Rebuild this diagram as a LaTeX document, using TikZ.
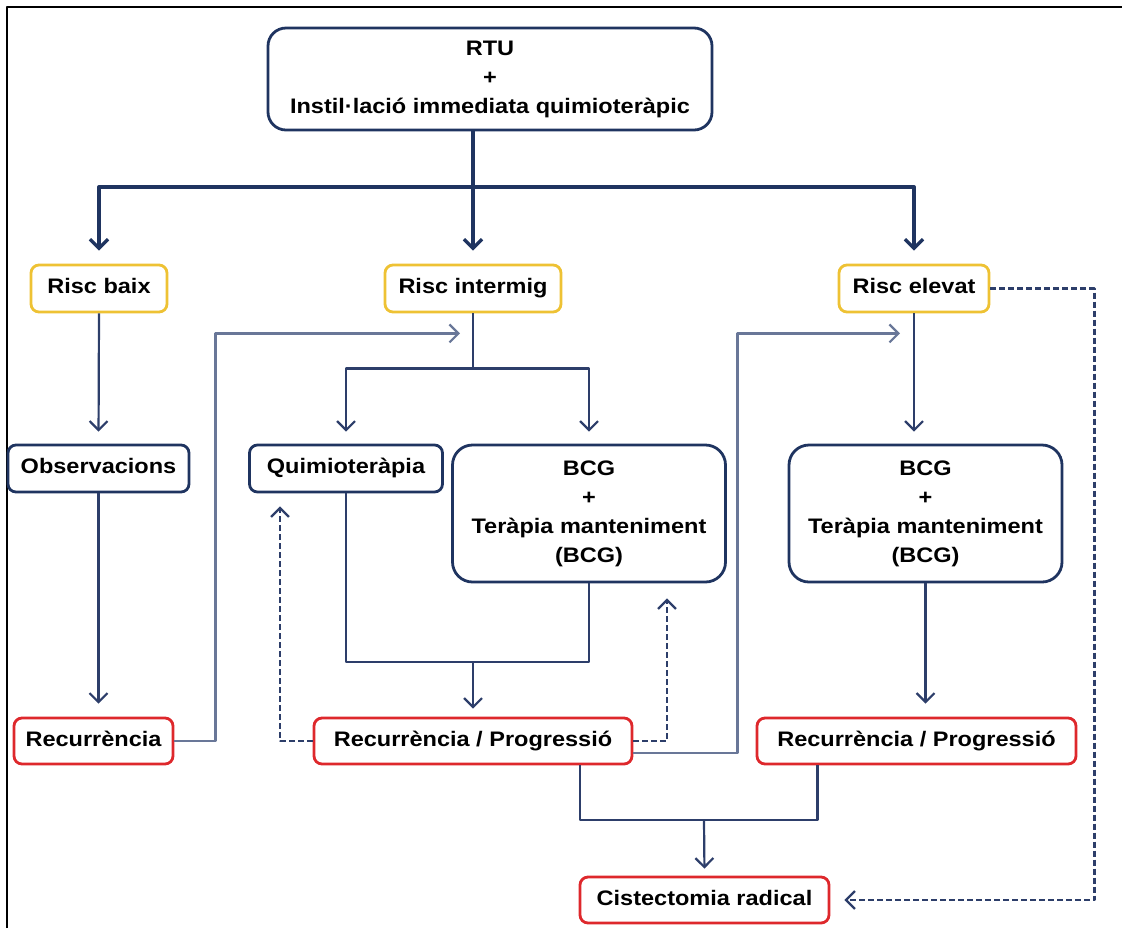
\documentclass[tikz,border=0pt]{standalone}
\usepackage{fontspec}
\setmainfont{Liberation Sans}[FakeStretch=1.12]
\usetikzlibrary{arrows.meta}
\definecolor{navy}{RGB}{31,52,96}
\definecolor{thinblue}{RGB}{45,62,106}
\definecolor{greyblue}{RGB}{105,119,152}
\definecolor{riskyellow}{RGB}{238,194,52}
\definecolor{recred}{RGB}{222,40,44}
\begin{document}
\begin{tikzpicture}[x=0.5pt,y=-0.5pt,font=\fontsize{10.5}{14.5}\selectfont\bfseries,
	line join=round,
	box/.style={draw=navy,line width=1.4pt,rounded corners=4pt,align=center,inner sep=0pt},
	oneline/.style={text height=7.6pt,text depth=2.2pt},
	riskbox/.style={box,oneline,draw=riskyellow},
	recbox/.style={box,oneline,draw=recred},
	>={Straight Barb[length=4.5pt,width=9pt]},
	main/.style={draw=navy,line width=1.7pt},
	flow/.style={draw=thinblue,line width=1.1pt},
	back/.style={draw=greyblue,line width=1.1pt},
	dashline/.style={draw=thinblue,line width=1.1pt,dash pattern=on 3pt off 1.5pt}]
	\useasboundingbox (0,0) rectangle (1122,928);
	\draw[line width=0.7pt] (7,928) -- (7,7) -- (1122,7);
	% nodes
	\node[box,rounded corners=9pt,minimum width=222pt,minimum height=51pt] (top) at (490,79)
		{RTU\\+\\Instil·lació immediata quimioteràpic};
	\node[riskbox,minimum width=68pt,minimum height=23.5pt] (rb) at (99,288.5) {Risc baix};
	\node[riskbox,minimum width=88pt,minimum height=23.5pt] (ri) at (473,288.5) {Risc intermig};
	\node[riskbox,minimum width=75pt,minimum height=23.5pt] (re) at (914,288.5) {Risc elevat};
	\node[box,oneline,minimum width=90.5pt,minimum height=23.5pt] (obs) at (98.5,468.5) {Observacions};
	\node[box,oneline,minimum width=96.5pt,minimum height=23.5pt] (qui) at (346,468.5) {Quimioteràpia};
	\node[box,rounded corners=10pt,minimum width=136.5pt,minimum height=68.5pt] (bcgi) at (589,513.5)
		{BCG\\+\\Teràpia manteniment\\(BCG)};
	\node[box,rounded corners=10pt,minimum width=136.5pt,minimum height=68.5pt] (bcge) at (925.5,513.5)
		{BCG\\+\\Teràpia manteniment\\(BCG)};
	\node[recbox,minimum width=79.5pt,minimum height=23pt] (rec) at (93.5,741) {Recurrència};
	\node[recbox,minimum width=159pt,minimum height=23pt] (rpi) at (473,741) {Recurrència / Progressió};
	\node[recbox,minimum width=159.5pt,minimum height=23pt] (rpe) at (916.5,741) {Recurrència / Progressió};
	\node[recbox,minimum width=124.5pt,minimum height=23pt] (cis) at (704.5,900) {Cistectomia radical};
	% risk split
	\coordinate (split) at (473,187);
	\draw[main] (top.south -| split) -- (split);
	\foreach \n in {rb,ri,re}
	{\draw[main,->,shorten >=6.5pt] (split) -| (\n.north);}
	% low risk
	\draw[flow,->,shorten >=6pt] (rb.south) -- (obs.north);
	\draw[flow,->,shorten >=6.5pt] (obs.south) -- (rec.north -| obs.south);
	\path (ri.south) ++(0,20) coordinate (ri-in);
	\draw[back,->,shorten >=6.5pt] (rec.east) -- ++(41,0) |- (ri-in);
	% intermediate risk
	\path (ri.south) ++(0,55) coordinate (ri-split);
	\draw[flow] (ri.south) -- (ri-split);
	\draw[flow,->,shorten >=6pt] (ri-split) -| (qui.north);
	\draw[flow,->,shorten >=6pt] (ri-split) -| (bcgi.north);
	\coordinate (join1) at (473,662);
	\draw[flow] (qui.south) |- (join1) -| (bcgi.south);
	\draw[flow,->,shorten >=4pt] (join1) -- (rpi.north);
	\draw[dashline,->,shorten >=6.5pt] (rpi.west) -| ([xshift=-33pt]qui.south);
	\draw[dashline,->,shorten >=7.5pt] (rpi.east) -| ([xshift=39pt]bcgi.south);
	\path (re.south) ++(0,20) coordinate (re-in);
	\draw[back,->,shorten >=7pt] ([yshift=-6pt]rpi.east) -- ++(104,0) |- (re-in);
	% high risk
	\draw[flow,->,shorten >=6pt] (re.south) -- (re.south |- bcge.north);
	\draw[flow,->,shorten >=6.5pt] (bcge.south) -- (bcge.south |- rpe.north);
	\draw[dashline,->,shorten >=7pt] (re.east) -- ++(104,0) |- (cis.east);
	% cystectomy
	\coordinate (join2) at (704,820);
	\draw[flow] ([xshift=53.5pt]rpi.south) |- (join2) -| ([xshift=-49.5pt]rpe.south);
	\draw[flow,->,shorten >=3.5pt] (join2) -- (cis.north);
\end{tikzpicture}
\end{document}
